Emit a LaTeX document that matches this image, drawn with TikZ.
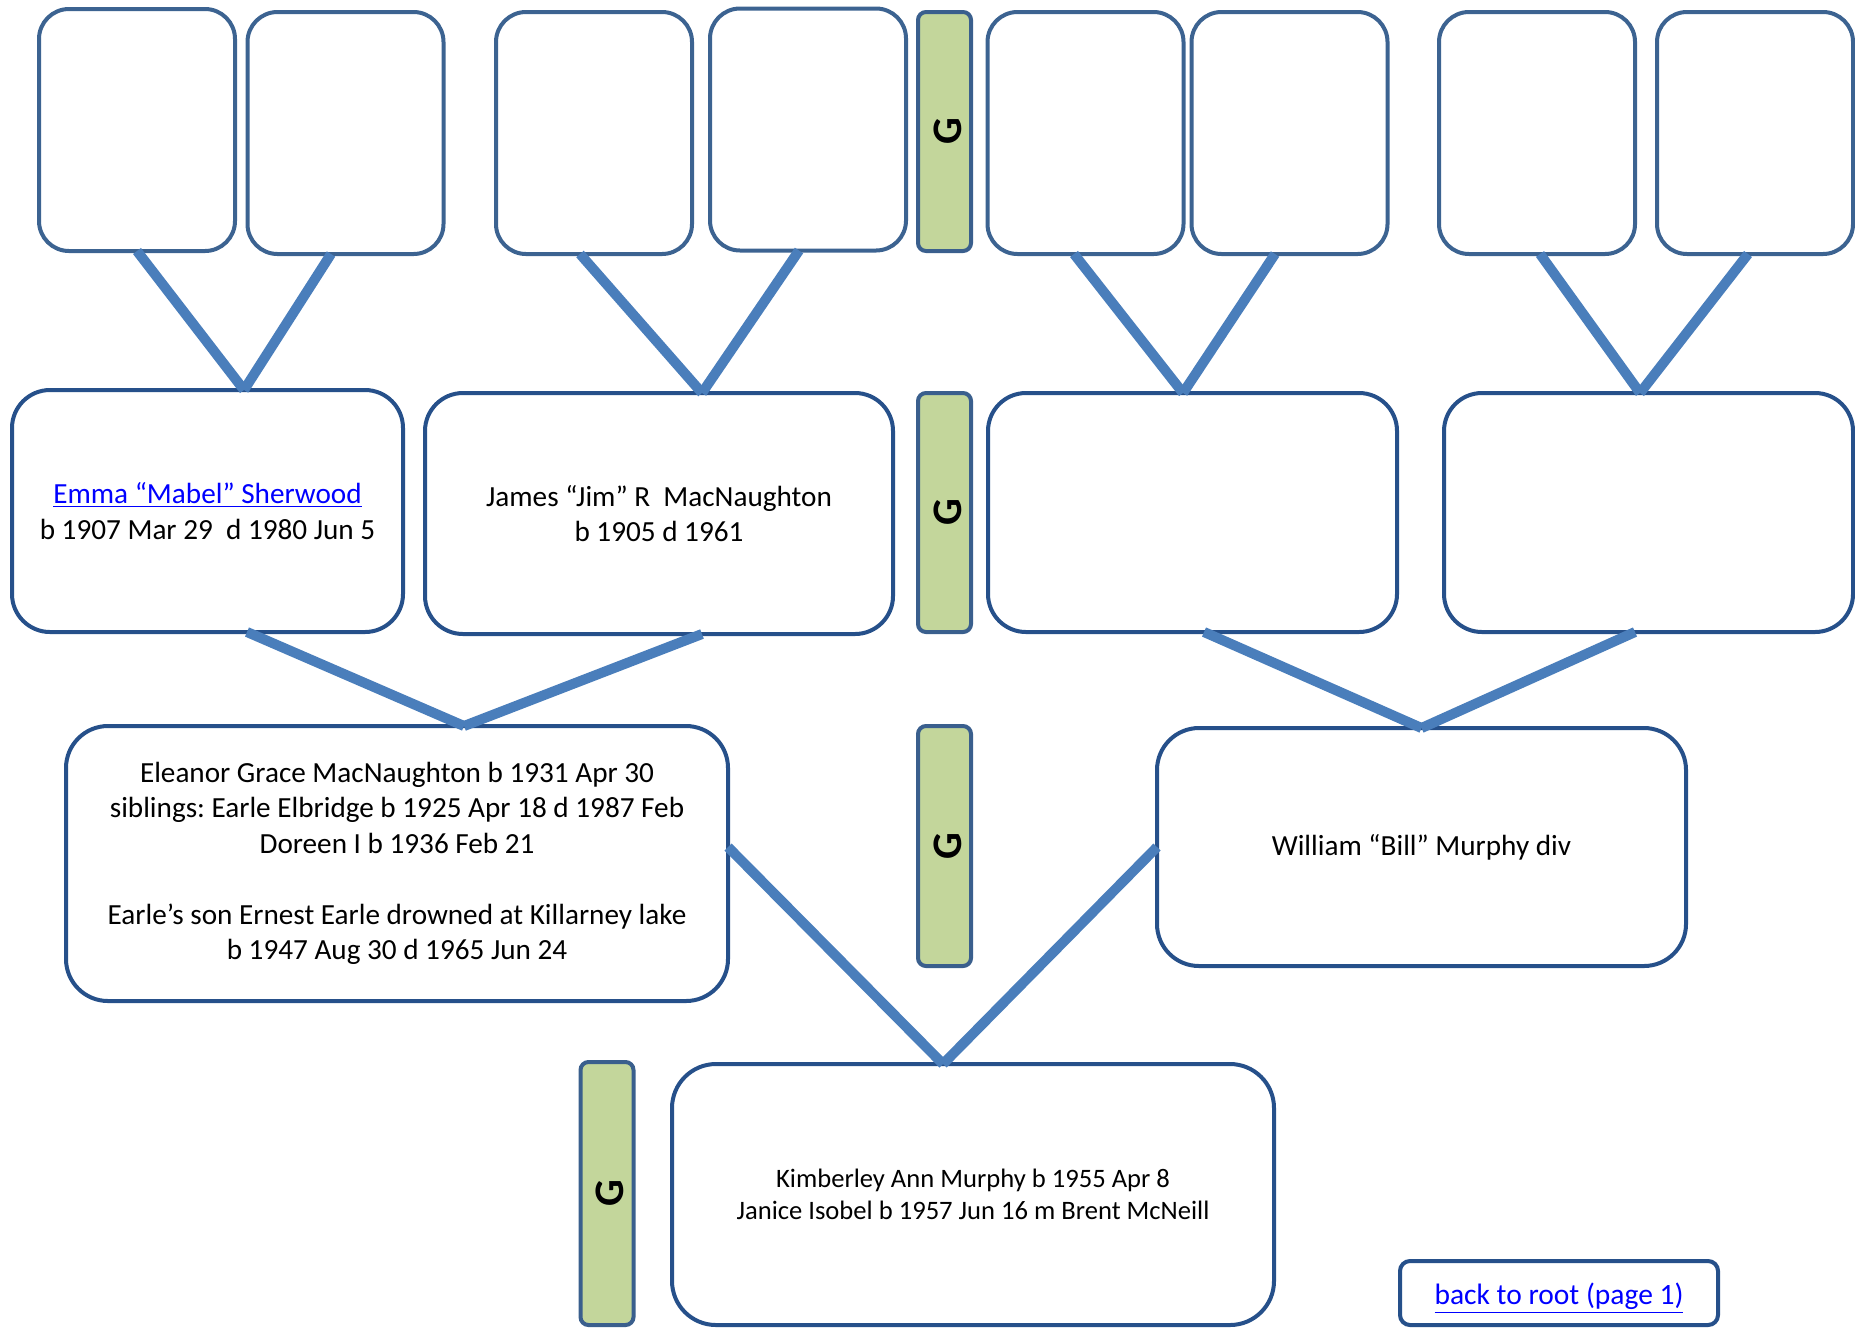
\documentclass[tikz,border=0pt]{standalone}
\usepackage{fontspec}
\setmainfont{Carlito}
\usepackage{tikz}
\usetikzlibrary{positioning}
\frenchspacing

\definecolor{boxtop}{HTML}{3C6391}
\definecolor{boxline}{HTML}{26508A}
\definecolor{linkline}{HTML}{4A7EBB}
\definecolor{genfill}{HTML}{C3D69B}
\definecolor{genline}{HTML}{3A5F8D}
\definecolor{urlblue}{HTML}{0000FF}

\newcommand{\weblink}[1]{\textcolor{urlblue}{\underline{#1}}}

\begin{document}
\begin{tikzpicture}[
      x=0.5pt, y=-0.5pt,
      person/.style={draw=boxline, line width=2pt, fill=white, rounded corners=19pt,
                     inner sep=0pt, outer sep=0pt, align=center,
                     font=\fontsize{14.6}{17.75}\selectfont},
      blank/.style={person, draw=boxtop, rounded corners=15pt,
                    minimum width=98pt, minimum height=121pt},
      gen/.style={draw=genline, line width=2pt, fill=genfill, rounded corners=4pt,
                  inner sep=0pt, outer sep=0pt, minimum width=26.5pt,
                  font=\fontsize{21}{24}\selectfont\bfseries},
      link/.style={draw=linkline, line width=5pt},
      note/.style={person, rounded corners=5pt, font=\fontsize{14.75}{16}\selectfont}]

    \useasboundingbox (0,0) rectangle (1855,1329);

    % ============================================
    % great-grandparents (empty)
    % ============================================
    \foreach \n/\x/\y in {1/137/130, 2/345.5/133, 3/594/133, 4/808/129.5,
                          5/1085.5/133, 6/1289.5/133, 7/1537/133, 8/1755/133} {
        \node[blank] (t\n) at (\x,\y) {};
    }

    % ============================================
    % grandparents
    % ============================================
    \node[person, minimum width=195.5pt, minimum height=121pt] (p1) at (207.5,511)
        {\weblink{Emma “Mabel” Sherwood}\\b 1907 Mar 29~ d 1980 Jun 5};
    \node[person, minimum width=234pt, minimum height=120.5pt] (p2) at (659,513.5)
        {James “Jim” R~ MacNaughton\\b 1905 d 1961};
    \node[person, minimum width=204.5pt, minimum height=119.5pt] (p3) at (1192.5,512.5) {};
    \node[person, minimum width=204.5pt, minimum height=119.5pt] (p4) at (1648.5,512.5) {};

    % ============================================
    % parents
    % ============================================
    \node[person, rounded corners=21pt, minimum width=331pt, minimum height=137.5pt] (c1) at (397,863.5)
        {Eleanor Grace MacNaughton b 1931 Apr 30\\
         siblings: Earle Elbridge b 1925 Apr 18 d 1987 Feb\\
         Doreen I b 1936 Feb 21\\[17.75pt]
         Earle’s son Ernest Earle drowned at Killarney lake\\
         b 1947 Aug 30 d 1965 Jun 24};
    \node[person, rounded corners=21pt, minimum width=264.5pt, minimum height=119pt] (c2) at (1421.5,847)
        {William “Bill” Murphy div};

    % ============================================
    % children
    % ============================================
    \node[person, rounded corners=22pt, minimum width=301pt, minimum height=130.5pt,
          font=\fontsize{13.3}{16}\selectfont] (kid) at (973,1194.5)
        {Kimberley Ann Murphy b 1955 Apr 8\\Janice Isobel b 1957 Jun 16 m Brent McNeill};

    \node[note, minimum width=159pt, minimum height=32pt] (root) at (1559,1293) {};
    \node[font=\fontsize{14.75}{16}\selectfont] (roottxt) at ([yshift=-2.5pt]root.center)
        {\weblink{back to root (page 1)}};

    % generation bars
    \foreach \n/\x/\y/\h in {A/944.5/131.5/119.5, B/944.5/512.5/119.5,
                             C/944.5/846/120, D/607/1193.5/131.5} {
        \node[gen, minimum height=\h pt] (g\n) at (\x,\y) {};
        \node[rotate=90, font=\fontsize{21}{24}\selectfont\bfseries] (gl\n) at ([xshift=1.5pt]g\n.center) {G};
    }

    % merge points
    \coordinate (m1) at ([xshift=18.25pt]p1.north);
    \coordinate (m2) at ([xshift=21.5pt]p2.north);
    \coordinate (m3) at ([xshift=-4.75pt]p3.north);
    \coordinate (m4) at ([xshift=-4.25pt]p4.north);
    \coordinate (m5) at ([xshift=33.5pt]c1.north);
    \coordinate (m6) at (c2.north);
    \coordinate (m7) at ([xshift=-15pt]kid.north);

    \draw[link] (t1.south) -- (m1);
    \draw[link] ([xshift=-7.25pt]t2.south) -- (m1);
    \draw[link] ([xshift=-7pt]t3.south) -- (m2);
    \draw[link] ([xshift=-4.5pt]t4.south) -- (m2);
    \draw[link] ([xshift=-5.75pt]t5.south) -- (m3);
    \draw[link] ([xshift=-7.25pt]t6.south) -- (m3);
    \draw[link] ([xshift=1.5pt]t7.south) -- (m4);
    \draw[link] ([xshift=-3.5pt]t8.south) -- (m4);

    \draw[link] ([xshift=19.75pt]p1.south) -- (m5);
    \draw[link] ([xshift=21.5pt]p2.south) -- (m5);
    \draw[link] ([xshift=5.75pt]p3.south) -- (m6);
    \draw[link] ([xshift=-6.75pt]p4.south) -- (m6);

    \draw[link] ([yshift=8.25pt]c1.east) -- (m7);
    \draw[link] (c2.west) -- (m7);

\end{tikzpicture}
\end{document}
